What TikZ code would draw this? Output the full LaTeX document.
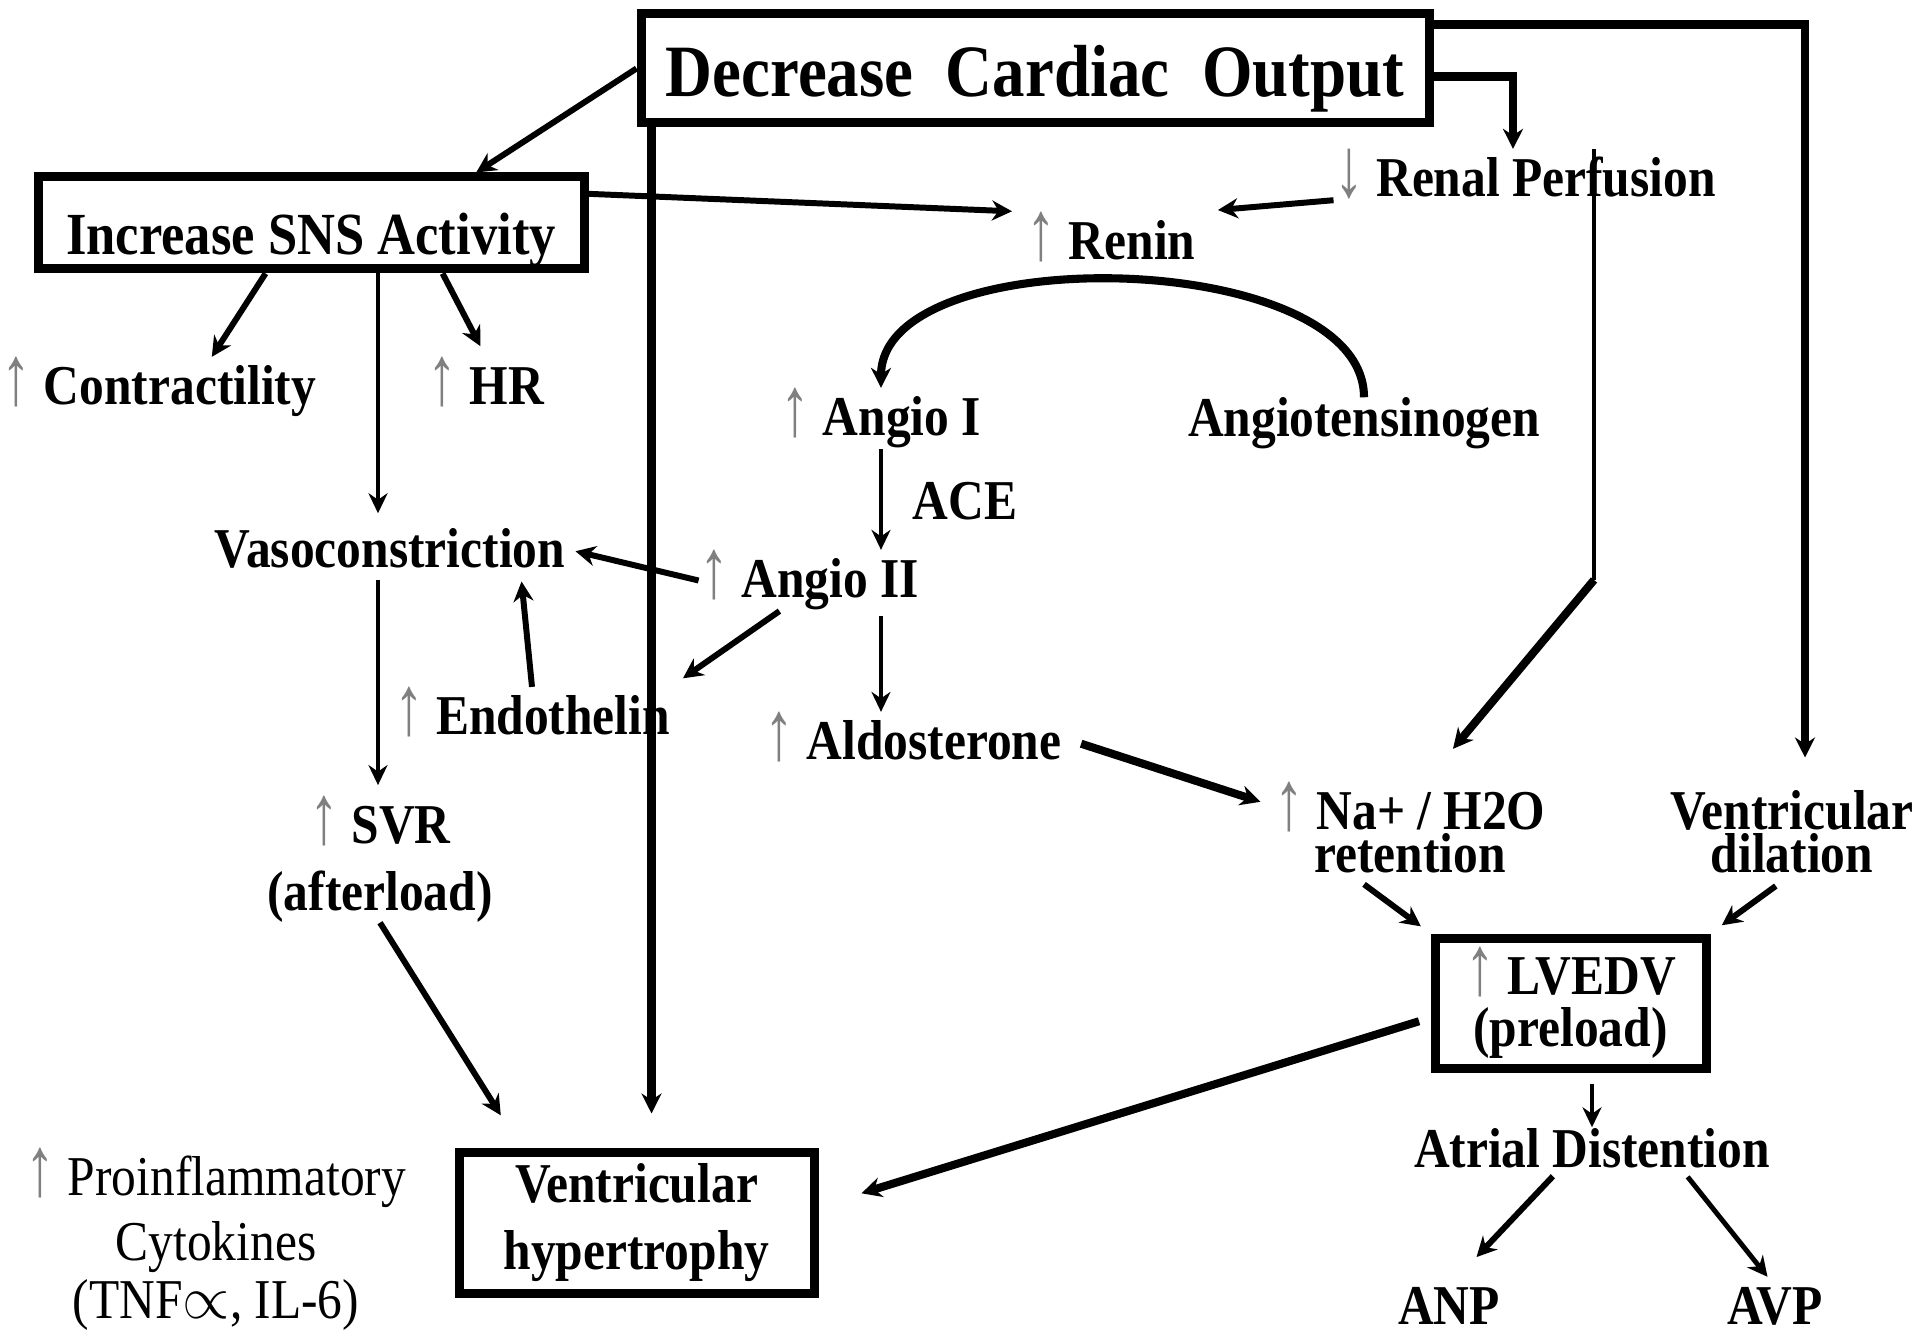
\documentclass[tikz,border=0pt]{standalone}
\usepackage{fontspec}
\usepackage{graphicx}
\setmainfont{Liberation Serif}[FakeStretch = 0.88]
\usetikzlibrary{positioning, calc, arrows.meta}
\newcommand{\upar}{{\color{gray}\mdseries\scalebox{1.2}[1.5]{↑}}}
\newcommand{\downar}{{\color{gray}\mdseries\scalebox{1.2}[1.5]{↓}}}
\tikzset{
outcome/.style = {rectangle, draw, line width = 0.09cm, inner sep = 0pt, align = center,
	font = \fontsize{16}{19}\selectfont\bfseries},
factor/.style = {inner sep = 0pt, align = center, anchor = base,
	font = \fontsize{16}{19}\selectfont\bfseries},
heavy/.style = {-{Stealth[length = 2mm, width = 2mm]}, line width = 2.3pt},
strong/.style = {-{Stealth[length = 2mm, width = 2mm]}, line width = 1.7pt},
medium/.style = {-{Stealth[length = 2mm, width = 2mm]}, line width = 1.4pt},
weak/.style = {-{Stealth[length = 2mm, width = 1.9mm]}, line width = 1.2pt}
}
\begin{document}
\begin{tikzpicture}[x = 0.1mm, y = -0.1mm]
\useasboundingbox (0,0) rectangle (1920,1333);

%% The boxes
\node [outcome, minimum width = 7.88cm, minimum height = 1.09cm, text height = 0.57cm,
	text depth = 0pt, font = \fontsize{21}{25}\selectfont\bfseries] (dco) at (1035,68.5)
	{Decrease~~Cardiac~~Output};
\node [outcome, minimum width = 5.46cm, minimum height = 0.92cm, text height = 0.64cm,
	text depth = 0pt, font = \fontsize{17}{20}\selectfont\bfseries] (sns) at (311,223)
	{Increase SNS Activity};
\node [outcome, minimum width = 2.71cm, minimum height = 1.30cm] (lvedv) at (1570.5,1003)
	{\upar{} LVEDV\\[-0.15cm](preload)};
\node [outcome, minimum width = 3.55cm, minimum height = 1.41cm] (hyp) at (636.5,1222.5)
	{Ventricular\\hypertrophy};

%% The factors (multi-line ones sit on their last line)
\node [factor] (contr) at (159,405) {\upar{} Contractility};
\node [factor] (hr) at (486,405) {\upar{} HR};
\node [factor] (vaso) at (390,568) {Vasoconstriction};
\node [factor] (renin) at (1111,260) {\upar{} Renin};
\node [factor] (renal) at (1525,197) {\downar{} Renal Perfusion};
\node [factor] (angio1) at (881,436) {\upar{} Angio I};
\node [factor] (angtsg) at (1364,437) {Angiotensinogen};
\node [factor] (ace) at (965,520) {ACE};
\node [factor] (angio2) at (809,598) {\upar{} Angio II};
\node [factor] (endo) at (532,735) {\upar{} Endothelin};
\node [factor] (aldo) at (913,760) {\upar{} Aldosterone};
\node [factor] (svr) at (380,910) {\upar{} SVR\\(afterload)};
\node [factor] (na) at (1410,873) {\upar{} Na+ / H2O\\[-0.23cm]retention};
\node [factor] (dil) at (1792,873) {Ventricular\\[-0.23cm]dilation};
\node [factor] (atrial) at (1592,1167) {Atrial Distention};
\node [factor] (anp) at (1449,1324) {ANP};
\node [factor] (avp) at (1775,1324) {AVP};
\node [factor, font = \fontsize{16}{19}\selectfont] (cyto) at (216,1318)
	{\upar{} Proinflammatory\\[-0.02cm]Cytokines\\[-0.09cm](TNF$\propto$, IL-6)};
\coordinate (renalbend) at (1594,580);

%% From the cardiac output
\path [strong] (dco.west) edge (sns.17);
\draw [heavy, shorten >= 3.4mm] ([xshift = 1.5mm]dco.south west)
	-- ([xshift = 1.5mm]dco.south west |- hyp.north);
\draw [heavy] ([yshift = -0.8mm]dco.east) -| ([xshift = -1.2mm]renal.north);
\draw [heavy, shorten >= 3.2mm] ([yshift = -1.5mm]dco.north east) -| ([xshift = 1.3mm]dil.north);

%% The sympathetic side
\path [strong] (sns.6) edge [shorten >= 1.4mm] (renin.north west);
\path [strong] (sns.228) edge (contr.30);
\path [strong] (sns.339) edge [shorten >= 1.2mm] (hr.north);
\path [weak] (sns.323) edge [shorten >= 1.5mm] (sns.323 |- vaso.north);
\path [weak] ([xshift = -1.2mm]vaso.south) edge [shorten <= 1mm, shorten >= 1mm]
	([xshift = -1.2mm]vaso.south |- svr.north);
\path [strong] (svr.south) edge [shorten >= 3.8mm] (hyp.147);

%% Renin - angiotensin
\path [strong] (renal.south west) edge [shorten >= 2.2mm] (renin.north east);
\draw [heavy] (angtsg.north) .. controls +(0,-150) and +(0,-150) .. (angio1.north);
\path [weak] (angio1.south) edge (angio1.south |- angio2.north);
\path [weak] (angio1.south |- angio2.south) edge [shorten <= 0.5mm] (angio1.south |- aldo.north);
\path [strong] (angio2.west) edge [shorten >= 1mm] (vaso.east);
\path [strong] (angio2.226) edge [shorten >= 1.5mm] (endo.north east);
\path [strong] (endo.north) edge [shorten >= 1.2mm] (vaso.351);

%% Volume and preload
\draw [weak, -] (renal.north -| renalbend) -- (renalbend);
\path [heavy] (renalbend) edge [shorten >= 4.2mm] (na.71);
\path [heavy] (aldo.east) edge [shorten <= 2mm, shorten >= 1.4mm] (na.171);
\path [strong] (na.218) edge [shorten <= 1.7mm, shorten >= 1.2mm] (lvedv.north west);
\path [strong] (dil.south) edge [shorten <= 2mm, shorten >= 1.4mm] (lvedv.north east);
\path [heavy] (lvedv.186) edge [shorten <= 1.2mm, shorten >= 4.5mm] (hyp.5);
\path [weak] (atrial.north |- lvedv.south) edge [shorten <= 1.1mm] (atrial.north);
\path [strong] (atrial.213) edge [shorten <= 1.1mm, shorten >= 4mm] (anp.north);
\path [medium] (atrial.347) edge [shorten <= 1.1mm, shorten >= 1.2mm] (avp.north);

\end{tikzpicture}
\end{document}
